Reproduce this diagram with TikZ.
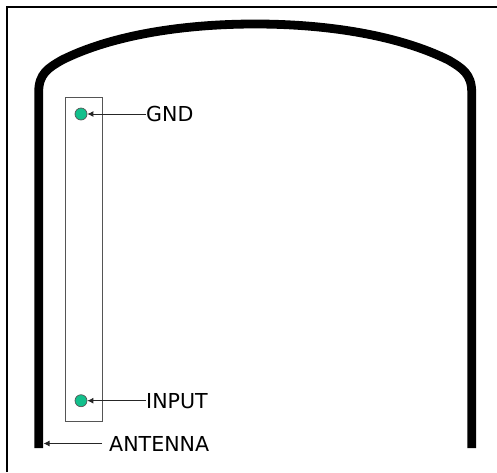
\documentclass[tikz,border=0pt]{standalone}
\usepackage{fontspec}
\setmainfont{DejaVu Sans}
\usetikzlibrary{positioning}
\usetikzlibrary{arrows.meta}
\definecolor{padgreen}{HTML}{12C08C}
\definecolor{framegray}{HTML}{555555}

\begin{document}
\begin{tikzpicture}[x=1pt, y=-1pt, node distance={7pt},
    pad/.style = {draw=framegray, circle, fill=padgreen, line width=0.7pt, minimum size=12pt, inner sep=0pt},
    label/.style = {font=\fontsize{20.6}{22}\selectfont, inner sep=0pt, anchor=west},
    lead/.style = {draw=black!85, line width=1pt, -{Latex[length=6pt, width=6pt]}}]
    \useasboundingbox (0,0) rectangle (497,472);

    % Frame, only two sides are visible
    \draw[black, line width=2.4pt] (7,472) -- (7,7) -- (497,7);

    % Antenna
    \draw[line width=8.8pt] (38.7,448) -- (38.7,92)
        .. controls (38.7,74) and (48,68) .. (62,60)
        .. controls (110,36) and (180,24) .. (255.2,24)
        .. controls (330,24) and (400,36) .. (448.4,60)
        .. controls (462,68) and (471.7,74) .. (471.7,92) -- (471.7,448);

    % Board
    \node[draw=framegray, line width=1pt, minimum width=37pt, minimum height=324pt, inner sep=0pt] (board) at (83.8,259.7) {};

    % Pads and their labels
    \node[pad] (gnd) at (81,114) {};
    \node[pad] (input) at (81,400.7) {};
    \node[label] (gndlabel) at (146,114) {GND};
    \node[label] (inputlabel) at (146,400.7) {INPUT};
    \node[label] (antennalabel) at (109,443.5) {ANTENNA};
    \coordinate[left=of antennalabel] (antennatail);
    \coordinate (antennaedge) at (43.5,443.5);

    \draw[lead] (gndlabel) -- (gnd);
    \draw[lead] (inputlabel) -- (input);
    \draw[lead] (antennatail) -- (antennaedge);
\end{tikzpicture}
\end{document}
